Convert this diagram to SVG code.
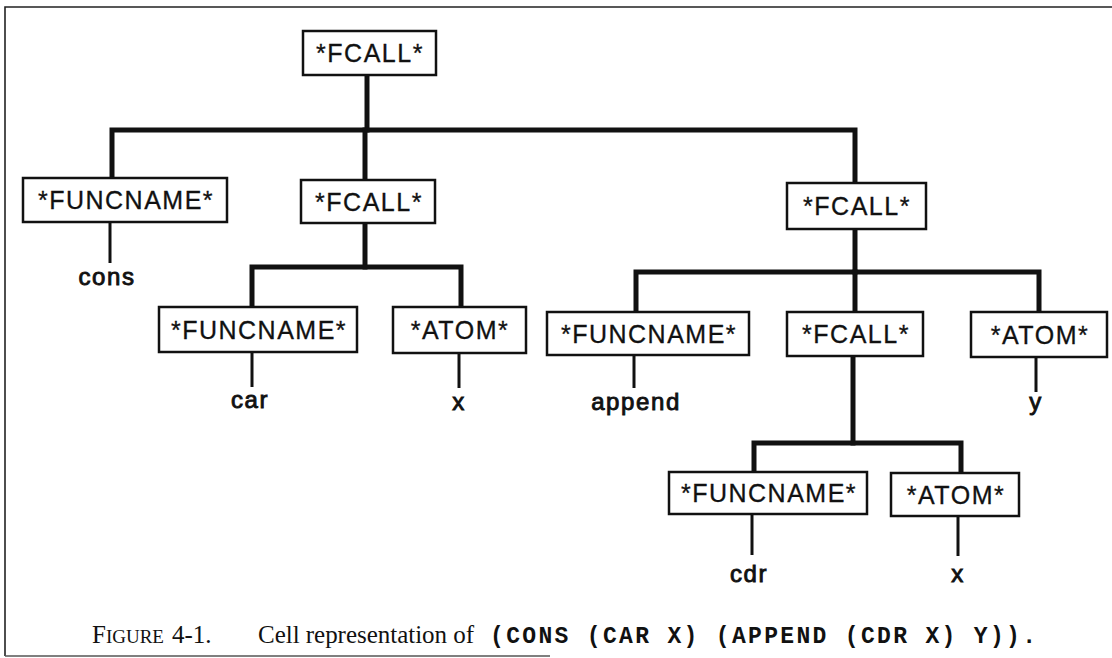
<svg xmlns="http://www.w3.org/2000/svg" width="1112" height="658" viewBox="0 0 1112 658">
<style>
.box{fill:#fff;stroke:#111;stroke-width:2.5}
.lbl{font-family:"Liberation Sans",Arial,sans-serif;font-size:25px;fill:#111;text-anchor:middle;letter-spacing:1.5px;stroke:#111;stroke-width:0.3}
.leaf{font-family:"Liberation Sans",Arial,sans-serif;font-size:24px;fill:#111;text-anchor:middle;letter-spacing:1.6px;stroke:#111;stroke-width:0.9}
.bar{fill:none;stroke:#111;stroke-width:5;stroke-linecap:square;stroke-linejoin:miter}
.stem{fill:none;stroke:#111;stroke-width:3}
.frame{fill:none;stroke:#222;stroke-width:1.6}
.cap{font-family:"Liberation Serif","Times New Roman",serif;font-size:25px;fill:#111}
.code{font-family:"Liberation Mono","DejaVu Sans Mono",monospace;font-size:23px;font-weight:bold;fill:#111}
</style>
<rect width="1112" height="658" fill="#fff"/>
<g id="frame">
<path class="frame" d="M5,656 V7 H1112"/>
<path d="M5,656 H550" stroke="#555" stroke-width="1.4" fill="none"/>
</g>
<g id="connectors">
<path class="bar" d="M367,75 V130"/>
<path class="bar" d="M112,178 V130 H855 V183"/>
<path class="bar" d="M365,130 V180"/>
<path class="bar" d="M365,223 V267"/>
<path class="bar" d="M252,307 V267 H461 V307"/>
<path class="bar" d="M855,229 V272"/>
<path class="bar" d="M636,312 V272 H1039 V312"/>
<path class="bar" d="M855,272 V312"/>
<path class="bar" d="M853,356 V443"/>
<path class="bar" d="M754,472 V443 H961 V473"/>
<path class="stem" d="M110,222 V263"/>
<path class="stem" d="M252,352 V387"/>
<path class="stem" d="M459,353 V388"/>
<path class="stem" d="M634,355 V388"/>
<path class="stem" d="M1036,357 V392"/>
<path class="stem" d="M752,514 V555"/>
<path class="stem" d="M958,516 V556"/>
</g>
<g id="n-root"><rect class="box" x="303" y="31" width="133" height="44"/><text class="lbl" x="370" y="62">*FCALL*</text></g>
<g id="n-fn-cons"><rect class="box" x="23" y="178" width="204" height="44"/><text class="lbl" x="126" y="209">*FUNCNAME*</text></g>
<g id="n-fcall-car"><rect class="box" x="301" y="180" width="134" height="43"/><text class="lbl" x="369" y="211">*FCALL*</text></g>
<g id="n-fcall-append"><rect class="box" x="787" y="183" width="139" height="46"/><text class="lbl" x="857" y="215">*FCALL*</text></g>
<g id="n-fn-car"><rect class="box" x="159" y="307" width="198" height="45"/><text class="lbl" x="259" y="339">*FUNCNAME*</text></g>
<g id="n-atom-x1"><rect class="box" x="393" y="307" width="133" height="46"/><text class="lbl" x="460" y="339">*ATOM*</text></g>
<g id="n-fn-append"><rect class="box" x="547" y="312" width="202" height="43"/><text class="lbl" x="649" y="343">*FUNCNAME*</text></g>
<g id="n-fcall-cdr"><rect class="box" x="787" y="312" width="136" height="44"/><text class="lbl" x="856" y="343">*FCALL*</text></g>
<g id="n-atom-y"><rect class="box" x="971" y="312" width="136" height="45"/><text class="lbl" x="1040" y="344">*ATOM*</text></g>
<g id="n-fn-cdr"><rect class="box" x="669" y="472" width="198" height="42"/><text class="lbl" x="769" y="502">*FUNCNAME*</text></g>
<g id="n-atom-x2"><rect class="box" x="891" y="473" width="128" height="43"/><text class="lbl" x="956" y="504">*ATOM*</text></g>
<g id="leaves">
<text class="leaf" x="107" y="285">cons</text>
<text class="leaf" x="250" y="408">car</text>
<text class="leaf" x="459" y="410">x</text>
<text class="leaf" x="636" y="410">append</text>
<text class="leaf" x="1036" y="410">y</text>
<text class="leaf" x="749" y="582">cdr</text>
<text class="leaf" x="958" y="582">x</text>
</g>
<g id="caption">
<text class="cap" x="92" y="643">F<tspan font-size="19">IGURE</tspan><tspan x="172">4-1.</tspan></text>
<text class="cap" x="258" y="643" textLength="216" lengthAdjust="spacing">Cell representation of</text>
<text class="code" x="490" y="643" textLength="546" lengthAdjust="spacing">(CONS (CAR X) (APPEND (CDR X) Y)).</text>
</g>
</svg>
